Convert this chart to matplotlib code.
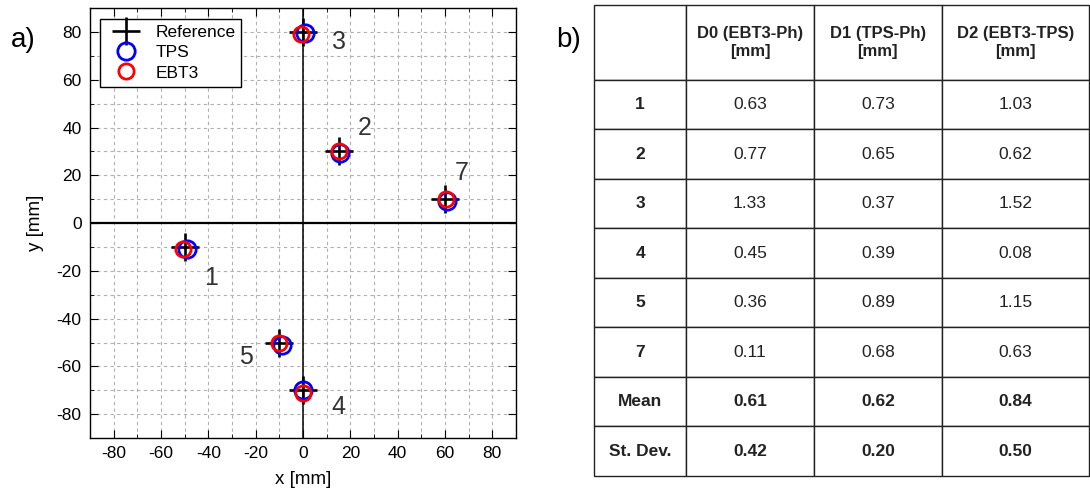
import matplotlib.pyplot as plt
from matplotlib.ticker import MultipleLocator

plt.rcParams["font.family"] = ["Liberation Sans", "DejaVu Sans"]
plt.rcParams["axes.unicode_minus"] = False

# positions of the measurement points [mm]
point_ids = ["1", "2", "3", "4", "5", "7"]
ref_x = [-50, 15, 0, 0, -10, 60]
ref_y = [-10, 30, 80, -70, -50, 10]
tps_x = [-49, 15.5, 0.8, 0.2, -9, 61]
tps_y = [-11, 29.2, 79.7, -70, -51, 9.2]
ebt3_x = [-50.8, 15, -0.8, 0, -10, 60.5]
ebt3_y = [-11, 30, 79, -71, -50.3, 10]
label_x = [-39, 26, 15, 15, -24, 67]
label_y = [-23, 40, 76, -77, -56, 21]

# distance table
col_labels = ["", "D0 (EBT3-Ph)\n[mm]", "D1 (TPS-Ph)\n[mm]", "D2 (EBT3-TPS)\n[mm]"]
row_labels = ["1", "2", "3", "4", "5", "7", "Mean", "St. Dev."]
d0 = ["0.63", "0.77", "1.33", "0.45", "0.36", "0.11", "0.61", "0.42"]
d1 = ["0.73", "0.65", "0.37", "0.39", "0.89", "0.68", "0.62", "0.20"]
d2 = ["1.03", "0.62", "1.52", "0.08", "1.15", "0.63", "0.84", "0.50"]

fig = plt.figure(figsize=(10.9, 5.01), dpi=100)

# ---- a) scatter of positions
ax = fig.add_axes([0.0826, 0.1257, 0.3908, 0.858])
ax.set_xlim(-90, 90)
ax.set_ylim(-90, 90)
ax.xaxis.set_minor_locator(MultipleLocator(10))
ax.yaxis.set_minor_locator(MultipleLocator(10))
ax.set_xticks(range(-80, 81, 20))
ax.set_yticks(range(-80, 81, 20))
ax.grid(which="both", linestyle=(0, (3, 3)), color="#b0b0b0", linewidth=0.8)
ax.set_axisbelow(True)
ax.tick_params(which="both", direction="in", top=True, right=True,
               labelsize=12.5, pad=6)
ax.tick_params(which="major", length=6)
ax.tick_params(which="minor", length=3)
for sp in ax.spines.values():
    sp.set_linewidth(1.0)

ax.axhline(0, color="black", lw=1.6, zorder=1)
ax.axvline(0, color="black", lw=1.1, zorder=1)

ax.plot(ref_x, ref_y, "+", color="black", ms=20, mew=1.9, ls="none",
        label="Reference", zorder=3)
ax.plot(tps_x, tps_y, "o", mfc="none", mec="blue", ms=12.5, mew=2, ls="none",
        label="TPS", zorder=4)
ax.plot(ebt3_x, ebt3_y, "o", mfc="none", mec="red", ms=11, mew=2, ls="none",
        label="EBT3", zorder=5)

for pid, lx, ly in zip(point_ids, label_x, label_y):
    ax.text(lx, ly, pid, fontsize=18, color="#333333", ha="center", va="center")

ax.set_xlabel("x [mm]", fontsize=13.5, labelpad=7)
ax.set_ylabel("y [mm]", fontsize=13.5, labelpad=9)

leg = ax.legend(loc="upper left", fontsize=12.5, frameon=True, fancybox=False,
                edgecolor="black", framealpha=1, borderpad=0.35,
                handlelength=2.2, handletextpad=0.6, labelspacing=0.3,
                borderaxespad=0.6)
leg.get_frame().set_linewidth(1.0)

fig.text(0.010, 0.906, "a)", fontsize=20)
fig.text(0.510, 0.906, "b)", fontsize=20)

# ---- b) table
tax = fig.add_axes([0.545, 0.050, 0.454, 0.940])
tax.axis("off")
cell_text = [[r, a, b, c] for r, a, b, c in zip(row_labels, d0, d1, d2)]
tbl = tax.table(cellText=cell_text, colLabels=col_labels, cellLoc="center",
                colWidths=[0.186, 0.258, 0.259, 0.297], bbox=[0, 0, 1, 1])
tbl.auto_set_font_size(False)
for (r, c), cell in tbl.get_celld().items():
    cell.set_edgecolor("#222222")
    cell.set_linewidth(1.0)
    cell.set_height(75 if r == 0 else 49.5)
    txt = cell.get_text()
    txt.set_color("#222222")
    if r == 0:
        txt.set_fontsize(12)
        txt.set_fontweight("bold")
        txt.set_linespacing(1.2)
    else:
        txt.set_fontsize(12.5)
        if c == 0 or r >= 7:
            txt.set_fontweight("bold")

fig.savefig("out.png", dpi=100)
